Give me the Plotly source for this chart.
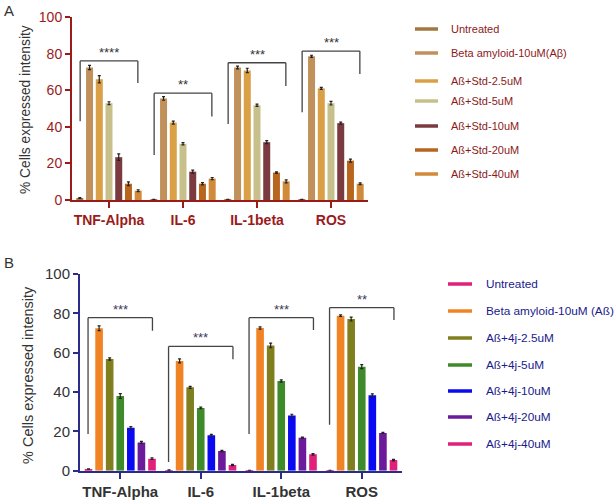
import plotly.graph_objects as go

categories = ["TNF-Alpha", "IL-6", "IL-1beta", "ROS"]

series_a = ["Untreated", "Beta amyloid-10uM(Aβ)", "Aß+Std-2.5uM", "Aß+Std-5uM",
            "Aß+Std-10uM", "Aß+Std-20uM", "Aß+Std-40uM"]
values_a = [
    [1.1, 0.3, 0.2, 0.2],
    [72.4, 55.5, 72.4, 78.5],
    [66.0, 42.3, 70.8, 61.0],
    [52.9, 30.7, 51.8, 52.9],
    [23.4, 15.5, 31.6, 42.0],
    [8.9, 8.9, 15.0, 21.5],
    [5.1, 11.7, 10.2, 8.9],
]
errors_a = [
    [0.2, 0.1, 0.1, 0.1],
    [1.2, 1.0, 0.8, 0.6],
    [2.0, 0.8, 1.2, 0.5],
    [0.8, 0.6, 0.6, 1.0],
    [1.8, 0.8, 0.8, 0.6],
    [1.0, 0.6, 0.4, 0.8],
    [0.5, 0.6, 0.8, 0.5],
]
colors_a = ["#A07840", "#C0915A", "#D9A045", "#C8C08A", "#7B3A40", "#B8661E", "#D08A3A"]

series_b = ["Untreated", "Beta amyloid-10uM (Aß)", "Aß+4j-2.5uM", "Aß+4j-5uM",
            "Aß+4j-10uM", "Aß+4j-20uM", "Aß+4j-40uM"]
values_b = [
    [0.9, 0.3, 0.1, 0.1],
    [72.4, 55.8, 72.5, 78.8],
    [56.8, 42.4, 63.7, 77.1],
    [38.0, 31.9, 45.6, 52.9],
    [21.8, 18.0, 28.1, 38.3],
    [14.4, 10.0, 16.8, 19.2],
    [6.1, 2.9, 8.3, 5.4],
]
errors_b = [
    [0.1, 0.1, 0.1, 0.1],
    [1.2, 1.0, 0.6, 0.4],
    [0.6, 0.5, 1.2, 1.0],
    [1.2, 0.4, 0.6, 1.0],
    [0.6, 0.5, 0.6, 0.8],
    [0.5, 0.3, 0.3, 0.3],
    [0.4, 0.3, 0.4, 0.4],
]
colors_b = ["#E0207A", "#F08424", "#7F7F1F", "#3F8A2A", "#0A0AF0", "#6A1A9A", "#E0207A"]

# brackets: (category index, left bottom, top, right bottom, stars)
brackets_a = [(0, 43, 76, 64, "****"), (1, 24.6, 58.4, 45.6, "**"),
              (2, 41.5, 75, 62.3, "***"), (3, 48, 81.4, 68.8, "***")]
brackets_b = [(0, 18.6, 77.8, 71.2, "***"), (1, 4.4, 63.2, 56.6, "***"),
              (2, 18.6, 77.8, 71.5, "***"), (3, 23.4, 82.9, 76.6, "**")]

yticks = [0, 20, 40, 60, 80, 100]

fig = go.Figure()

for name, vals, errs, col in zip(series_a, values_a, errors_a, colors_a):
    fig.add_trace(go.Bar(
        x=categories, y=vals, name=name, xaxis="x", yaxis="y",
        marker=dict(color=col, line=dict(width=0)),
        error_y=dict(type="data", array=errs, color="#222", thickness=1.2, width=1.5),
        showlegend=False, offsetgroup=name,
    ))
for name, vals, errs, col in zip(series_b, values_b, errors_b, colors_b):
    fig.add_trace(go.Bar(
        x=categories, y=vals, name=name, xaxis="x2", yaxis="y2",
        marker=dict(color=col, line=dict(width=0)),
        error_y=dict(type="data", array=errs, color="#222", thickness=1.2, width=1.5),
        showlegend=False, offsetgroup=name + "b",
    ))

W, H = 614, 500
axis_a = "#9B1B1B"
axis_b = "#2B2B8C"
label_b = "#333333"

shapes = []
annotations = []

def add_brackets(brs, xref, yref, half, scol):
    for ci, lb, top, rb, stars in brs:
        x0, x1 = ci - half, ci + half
        line = dict(color="#444", width=1.3)
        shapes.append(dict(type="line", xref=xref, yref=yref, x0=x0, x1=x0, y0=lb, y1=top, line=line))
        shapes.append(dict(type="line", xref=xref, yref=yref, x0=x0, x1=x1, y0=top, y1=top, line=line))
        shapes.append(dict(type="line", xref=xref, yref=yref, x0=x1, x1=x1, y0=top, y1=rb, line=line))
        annotations.append(dict(xref=xref, yref=yref, x=ci, y=top, text=stars, showarrow=False,
                                yanchor="bottom", yshift=-1,
                                font=dict(family="Arial, Liberation Sans", size=13, color=scol)))

add_brackets(brackets_a, "x", "y", 0.39, "#333")
add_brackets(brackets_b, "x2", "y2", 0.40, "#3A3A5A")

def add_legend(names, cols, x0, x1, xt, ys, tcolor, fsize):
    for n, c, yp in zip(names, cols, ys):
        yy = 1 - yp / H
        shapes.append(dict(type="line", xref="paper", yref="paper", x0=x0 / W, x1=x1 / W,
                           y0=yy, y1=yy, line=dict(color=c, width=3.5)))
        annotations.append(dict(xref="paper", yref="paper", x=xt / W, y=yy, text=n,
                                showarrow=False, xanchor="left", yanchor="middle",
                                font=dict(family="Arial, Liberation Sans", size=fsize, color=tcolor)))

add_legend(series_a, colors_a, 415, 438, 449, [29, 53, 81, 101, 126, 150, 174], "#8B1A1A", 11)
add_legend(series_b, colors_b, 448, 472, 484, [284, 311, 338, 365, 391, 417, 444], "#1A1A8C", 11.8)

# panel letters and y titles
annotations.append(dict(xref="paper", yref="paper", x=2 / W, y=1 - 10 / H, text="A", showarrow=False,
                        xanchor="left", yanchor="middle",
                        font=dict(family="Arial, Liberation Sans", size=15, color="#333")))
annotations.append(dict(xref="paper", yref="paper", x=2 / W, y=1 - 262 / H, text="B", showarrow=False,
                        xanchor="left", yanchor="middle",
                        font=dict(family="Arial, Liberation Sans", size=15, color="#333")))
annotations.append(dict(xref="paper", yref="paper", x=26 / W, y=1 - 110 / H,
                        text="% Cells expressed intensity", showarrow=False, textangle=-90,
                        xanchor="center", yanchor="middle",
                        font=dict(family="Arial, Liberation Sans", size=13.8, color="#333")))
annotations.append(dict(xref="paper", yref="paper", x=28 / W, y=1 - 375 / H,
                        text="% Cells expressed intensity", showarrow=False, textangle=-90,
                        xanchor="center", yanchor="middle",
                        font=dict(family="Arial, Liberation Sans", size=14.5, color="#333")))

fontA = dict(family="Arial, Liberation Sans", size=14, color=axis_a)
fontB = dict(family="Arial, Liberation Sans", size=15, color=label_b)

common = dict(showgrid=False, zeroline=False, automargin=False, ticks="outside",
              tickprefix="<b>", ticksuffix="</b>", linewidth=2, tickwidth=2, showline=True)

fig.update_layout(
    template="none",
    width=W, height=H, autosize=False, margin=dict(l=0, r=0, t=0, b=0, pad=0),
    paper_bgcolor="white", plot_bgcolor="white",
    barmode="group", bargap=0.08, bargroupgap=0.28,
    xaxis=dict(domain=[72 / W, 368 / W], anchor="y", linecolor=axis_a, ticklen=6,
               tickcolor=axis_a, tickfont=fontA, range=[-0.5, 3.5], **common),
    yaxis=dict(domain=[1 - 200 / H, 1 - 17 / H], anchor="x", range=[0, 100], tickvals=yticks,
               linecolor=axis_a, ticklen=5, tickcolor=axis_a, tickfont=fontA, **common),
    xaxis2=dict(domain=[80 / W, 402 / W], anchor="y2", linecolor=axis_b, ticklen=6,
                tickcolor=axis_b, tickfont=fontB, range=[-0.5, 3.5], **common),
    yaxis2=dict(domain=[1 - 470.7 / H, 1 - 274 / H], anchor="x2", range=[0, 100], tickvals=yticks,
                linecolor=axis_b, ticklen=5, tickcolor=axis_b, tickfont=fontB, **common),
    shapes=shapes, annotations=annotations,
)

fig.write_html(
    "out.html",
    config={"responsive": False, "displayModeBar": False},
    post_script=(
        "document.documentElement.style.margin='0';"
        "document.body.style.margin='0';document.body.style.overflow='hidden';"
    ),
)
